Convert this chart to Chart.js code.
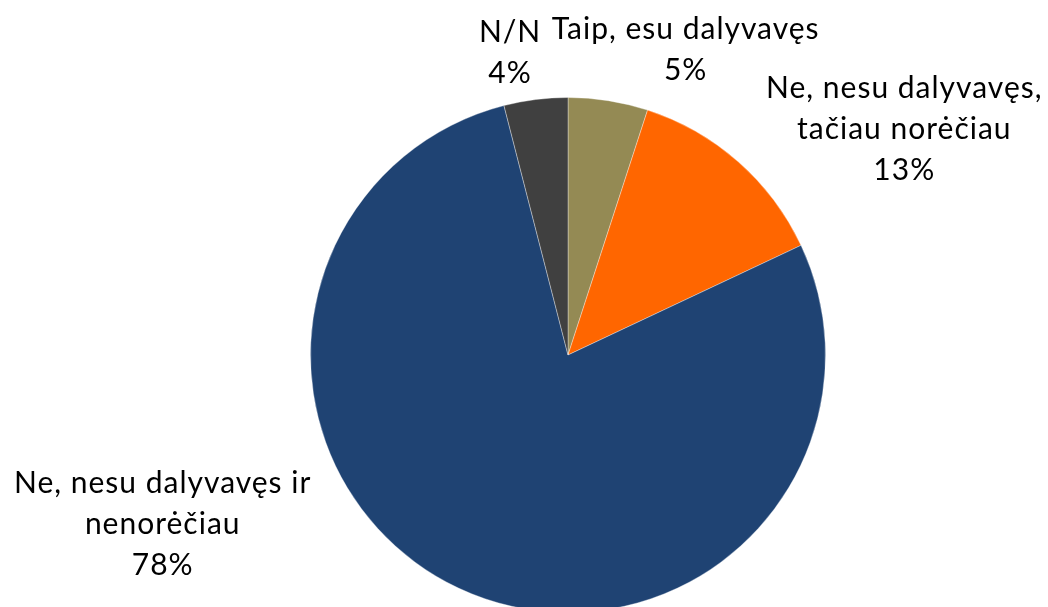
<!DOCTYPE html>
<html><head><meta charset="utf-8">
<script src="https://cdn.jsdelivr.net/npm/chart.js@4"></script>
<style>html,body{margin:0;padding:0;background:#fff;overflow:hidden;}#wrap{width:1048px;height:620px;}</style>
</head><body><div id="wrap"><canvas id="c" width="1048" height="620"></canvas></div>
<script>
const categories = ["Taip, esu dalyvavęs", "Ne, nesu dalyvavęs, tačiau norėčiau", "Ne, nesu dalyvavęs ir nenorėčiau", "N/N"];
const labelLines = [["Taip, esu dalyvavęs"], ["Ne, nesu dalyvavęs,", "tačiau norėčiau"], ["Ne, nesu dalyvavęs ir", "nenorėčiau"], ["N/N"]];
const values = [5, 13, 78, 4];
const colors = ["#948A54", "#FF6600", "#1F4373", "#404040"];

// label block centres relative to pie centre, in units of radius
const labelPlace = [[0.457, -1.186], [1.306, -0.876], [-1.574, 0.659], [-0.225, -1.174]];

const labelPlugin = {
  id: 'pieLabels',
  afterDatasetsDraw(chart) {
    const ctx = chart.ctx;
    const meta = chart.getDatasetMeta(0);
    const total = values.reduce((a, b) => a + b, 0);
    ctx.save();
    ctx.font = '30px Lato';
    try { ctx.letterSpacing = '1px'; } catch (e) {}
    ctx.fillStyle = '#000';
    ctx.textAlign = 'center';
    ctx.textBaseline = 'middle';
    const lh = 41;
    meta.data.forEach((arc, i) => {
      const r = arc.outerRadius;
      const cx = arc.x + labelPlace[i][0] * r;
      const cy = arc.y + labelPlace[i][1] * r;
      const lines = labelLines[i].concat([Math.round(values[i] / total * 100) + '%']);
      const y0 = cy - (lines.length - 1) * lh / 2;
      lines.forEach((t, k) => ctx.fillText(t, cx, y0 + k * lh));
    });
    ctx.restore();
  }
};

new Chart(document.getElementById('c'), {
  type: 'pie',
  data: { labels: categories, datasets: [{ data: values, backgroundColor: colors, borderColor: 'rgba(255,255,255,0.35)', borderWidth: 1 }] },
  options: {
    responsive: false,
    animation: false,
    layout: { padding: { top: 97, bottom: 7, left: 310, right: 222 } },
    plugins: { legend: { display: false }, tooltip: { enabled: false } }
  },
  plugins: [labelPlugin]
});
</script></body></html>
